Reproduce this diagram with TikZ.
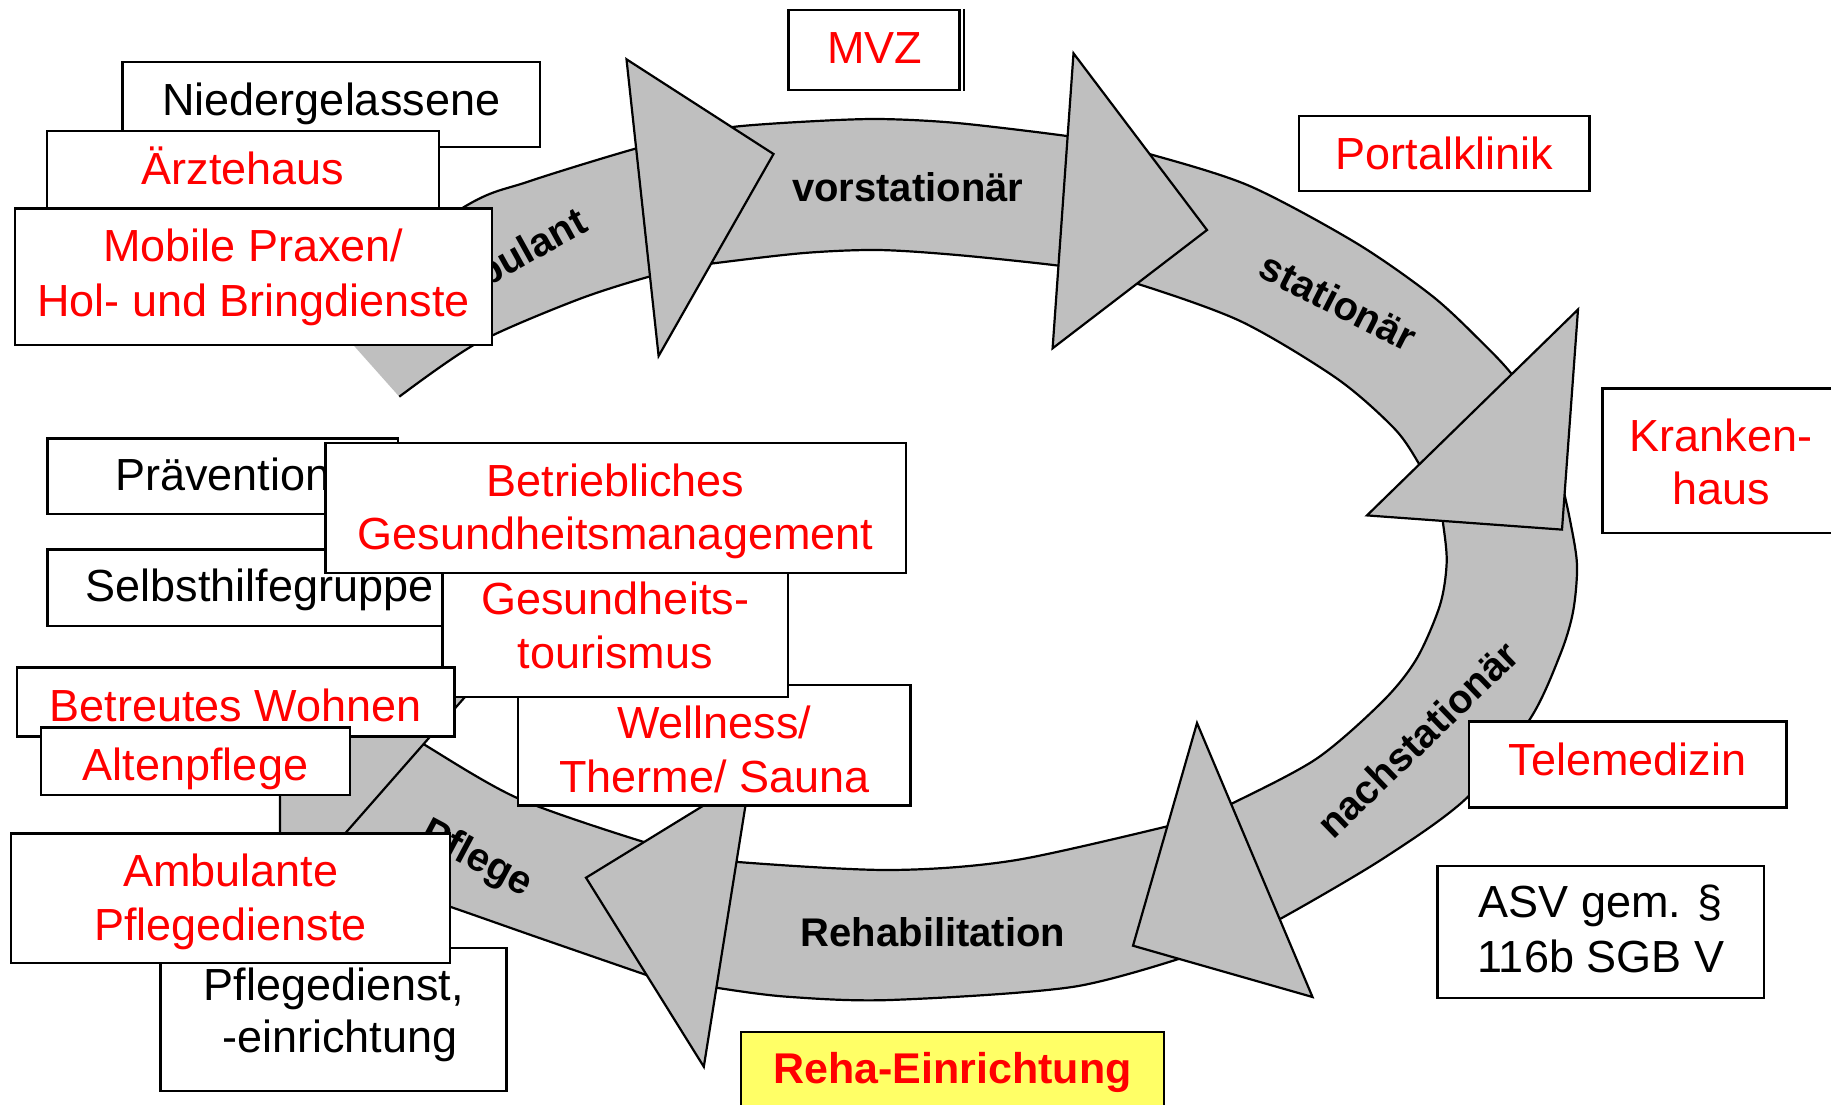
\documentclass[tikz,border=0pt]{standalone}
\usepackage{fontspec}
\setmainfont{Liberation Sans}
\definecolor{bandgray}{RGB}{191,191,191}
\definecolor{rehayellow}{RGB}{255,255,102}
\begin{document}
\begin{tikzpicture}[x=1pt,y=-1pt,
  box/.style={draw=black, line width=2.4pt, fill=white, inner sep=0pt},
  bandline/.style={draw=black, line width=2.2pt},
  head/.style={fill=bandgray, draw=black, line width=2.2pt, line join=miter},
  txt/.style={anchor=base, inner sep=0pt, font=\fontsize{45}{54}\selectfont},
  rtxt/.style={txt, text=red},
  lbl/.style={anchor=base, inner sep=0pt, font=\bfseries\fontsize{40}{48}\selectfont}]
\path[use as bounding box, fill=white] (0,0) rectangle (1831,1104);

% ---------- bands ----------
% S1 ambulant
\fill[bandgray] plot[smooth] coordinates {(320,307.6) (463.6,207.3) (528,181.7) (636.7,148.3) (690,137)}
  -- plot[smooth] coordinates {(695,267) (651.4,276) (576.7,300) (476.7,343.3) (399.3,396.7)} -- cycle;
\draw[bandline] plot[smooth] coordinates {(320,307.6) (463.6,207.3) (528,181.7) (636.7,148.3) (690,137)};
\draw[bandline] plot[smooth] coordinates {(399.3,396.7) (476.7,343.3) (576.7,300) (651.4,276) (695,267)};
% S2 vorstationaer
\fill[bandgray] plot[smooth] coordinates {(700,134) (735,126.7) (804,121.7) (878,119) (957,123) (1066.8,136) (1100,143)}
  -- plot[smooth] coordinates {(1095,273) (1059,265.7) (957,255) (878,250) (804,253) (716,263) (690,267)} -- cycle;
\draw[bandline] plot[smooth] coordinates {(700,134) (735,126.7) (804,121.7) (878,119) (957,123) (1066.8,136) (1100,143)};
\draw[bandline] plot[smooth] coordinates {(690,267) (716,263) (804,253) (878,250) (957,255) (1059,265.7) (1095,273)};
% S3 stationaer
\fill[bandgray] plot[smooth] coordinates {(1110,146) (1150.3,154.3) (1249,185.7) (1356,242.9) (1432.7,296.4) (1482.5,342.9) (1511,373.2) (1535,408)}
  -- plot[smooth] coordinates {(1432,490) (1419.3,464.3) (1394.4,428.6) (1337,378.6) (1241,321.4) (1138,284) (1100,277)} -- cycle;
\draw[bandline] plot[smooth] coordinates {(1110,146) (1150.3,154.3) (1249,185.7) (1356,242.9) (1432.7,296.4) (1482.5,342.9) (1511,373.2) (1535,408)};
\draw[bandline] plot[smooth] coordinates {(1100,277) (1138,284) (1241,321.4) (1337,378.6) (1394.4,428.6) (1419.3,464.3) (1432,490)};
% S4 nachstationaer
\fill[bandgray] plot[smooth] coordinates {(1560,475) (1570,520) (1577,565) (1573,612) (1560,655) (1530,719) (1466.7,798) (1383,858.6) (1280,919) (1240,937)}
  -- plot[smooth] coordinates {(1205,814) (1233,803) (1316.7,758.6) (1383,701) (1416.7,658.6) (1440,605) (1446.7,562) (1443,523) (1438,495)} -- cycle;
\draw[bandline] plot[smooth] coordinates {(1560,475) (1570,520) (1577,565) (1573,612) (1560,655) (1530,719) (1466.7,798) (1383,858.6) (1280,919) (1240,937)};
\draw[bandline] plot[smooth] coordinates {(1438,495) (1443,523) (1446.7,562) (1440,605) (1416.7,658.6) (1383,701) (1316.7,758.6) (1233,803) (1205,814)};
% S5 Rehabilitation
\fill[bandgray] plot[smooth] coordinates {(1200,952) (1074,986.7) (890,1000) (787,996.7) (718,988) (680,981)}
  -- plot[smooth] coordinates {(700,855) (738,862) (890,870) (1016.6,860) (1185,822)} -- cycle;
\draw[bandline] plot[smooth] coordinates {(1200,952) (1074,986.7) (890,1000) (787,996.7) (718,988) (680,981)};
\draw[bandline] plot[smooth] coordinates {(1185,822) (1016.6,860) (890,870) (738,862) (700,855)};
% S6 Pflege
\fill[bandgray] plot[smooth] coordinates {(690,990) (646.4,975) (535.7,936.7) (450,906.7) (370,880) (290,850)}
  -- plot[smooth] coordinates {(400,728) (425,745) (517.9,798.3) (642.9,841.7) (690,852)} -- cycle;
\draw[bandline] plot[smooth] coordinates {(690,990) (646.4,975) (535.7,936.7) (450,906.7) (370,880) (290,850)};
\draw[bandline] plot[smooth] coordinates {(690,852) (642.9,841.7) (517.9,798.3) (425,745) (400,728)};

% ---------- arrow heads ----------
\draw[head] (626.5,59.3) -- (773.5,154) -- (658.6,356) -- cycle;
\draw[head] (1073.5,53.3) -- (1207,230) -- (1052.6,348.3) -- cycle;
\draw[head] (1578,309.5) -- (1562,529.6) -- (1367,515.4) -- cycle;
\draw[head] (1197,723) -- (1312.5,997) -- (1133,945.7) -- cycle;
\draw[head] (750,777) -- (703.8,1066.7) -- (586,877.7) -- cycle;
\draw[head] (475,685.5) -- (280,700) -- (280,907.6) -- cycle;

% ---------- band labels ----------
\node[lbl, rotate=29] (lamb) at (512.2,273.1) {ambulant};
\node[lbl] (lvor) at (907.7,201.7) {vorstationär};
\node[lbl, rotate=-27] (lstat) at (1332,314.3) {stationär};
\node[lbl, rotate=44] (lnach) at (1427.4,749.7) {nachstationär};
\node[lbl] (lreha) at (933,946.7) {Rehabilitation};
\node[lbl, rotate=-28] (lpfl) at (471.6,868.5) {Pflege};

% ---------- boxes ----------
\node[box, minimum width=417.4pt, minimum height=85pt] (nieder) at (331.3,104.2) {};
\node[txt] (nieder-t) at (331.3,115) {Niedergelassene};
\node[box, minimum width=392pt, minimum height=85pt] (aerzte) at (243,173.5) {};
\node[rtxt] (aerzte-t) at (243,184.3) {Ärztehaus};
\node[box, minimum width=477.1pt, minimum height=136.7pt] (mobile) at (253.25,276.65) {};
\node[rtxt] (mobile-t1) at (253.5,261.7) {Mobile Praxen/};
\node[rtxt] (mobile-t2) at (253.5,316) {Hol- und Bringdienste};

\node[box, minimum width=171pt, minimum height=80pt] (mvz) at (873.8,50) {};
\draw[line width=1.6pt] ([xshift=3.4pt]mvz.north east) -- ([xshift=3.4pt]mvz.south east);
\node[rtxt] (mvz-t) at (874.5,63.3) {MVZ};

\node[box, minimum width=290.8pt, minimum height=75pt] (portal) at (1444.2,153.5) {};
\node[rtxt] (portal-t) at (1444.5,169.6) {Portalklinik};

\node[box, minimum width=236.5pt, minimum height=144.3pt] (kranken) at (1720.75,460.75) {};
\node[rtxt] (kranken-t1) at (1721,451.8) {Kranken-};
\node[rtxt] (kranken-t2) at (1721,504.6) {haus};

\node[box, minimum width=317.7pt, minimum height=86.1pt] (tele) at (1627.75,764.35) {};
\node[rtxt] (tele-t) at (1627.6,775.1) {Telemedizin};

\node[box, minimum width=326.6pt, minimum height=132pt] (asv) at (1600.7,932) {};
\node[txt] (asv-t1) at (1600.7,917.4) {ASV gem. §};
\node[txt] (asv-t2) at (1600.7,972.9) {116b SGB V};

\node[box, fill=rehayellow, minimum width=423.2pt, minimum height=83.3pt] (reha) at (952.6,1073.35) {};
\node[anchor=base, inner sep=0pt, text=red, font=\bfseries\fontsize{43}{52}\selectfont] (reha-t) at (952.6,1083) {Reha-Einrichtung};

\node[box, minimum width=350.9pt, minimum height=75.5pt] (praev) at (222.75,476.05) {};
\node[txt] (praev-t) at (222.7,490.7) {Prävention};
\node[box, minimum width=424.7pt, minimum height=76.4pt] (selbst) at (259.65,587.8) {};
\node[txt] (selbst-t) at (259.6,601) {Selbsthilfegruppe};

\node[box, minimum width=392.1pt, minimum height=120.5pt] (well) at (714.25,745.05) {};
\node[rtxt] (well-t1) at (714.2,738.5) {Wellness/};
\node[rtxt] (well-t2) at (714.2,792.2) {Therme/ Sauna};

\node[box, minimum width=345.6pt, minimum height=136.4pt] (gtour) at (615.2,628.8) {};
\node[rtxt] (gtour-t1) at (615.2,614) {Gesundheits-};
\node[rtxt] (gtour-t2) at (615.2,668.7) {tourismus};

\node[box, minimum width=580.5pt, minimum height=130pt] (betrieb) at (615.75,507.7) {};
\node[rtxt] (betrieb-t1) at (615.5,496.4) {Betriebliches};
\node[rtxt] (betrieb-t2) at (615.5,549.6) {Gesundheitsmanagement};

\node[box, minimum width=437.5pt, minimum height=68.9pt] (betreut) at (235.75,701.85) {};
\node[rtxt] (betreut-t) at (235.6,721) {Betreutes Wohnen};
\node[box, minimum width=308.5pt, minimum height=67.6pt] (alten) at (195.45,761.4) {};
\node[rtxt] (alten-t) at (195.5,780) {Altenpflege};

\node[box, minimum width=345.9pt, minimum height=143.3pt] (pdienst) at (333.55,1019.35) {};
\node[txt] (pdienst-t1) at (333.7,1000.3) {Pflegedienst,};
\node[txt] (pdienst-t2) at (340,1052.6) {-einrichtung};
\node[box, minimum width=438.8pt, minimum height=129.6pt] (ambul) at (230.3,898.4) {};
\node[rtxt] (ambul-t1) at (230.6,886.8) {Ambulante};
\node[rtxt] (ambul-t2) at (230.6,940.5) {Pflegedienste};
\end{tikzpicture}
\end{document}
